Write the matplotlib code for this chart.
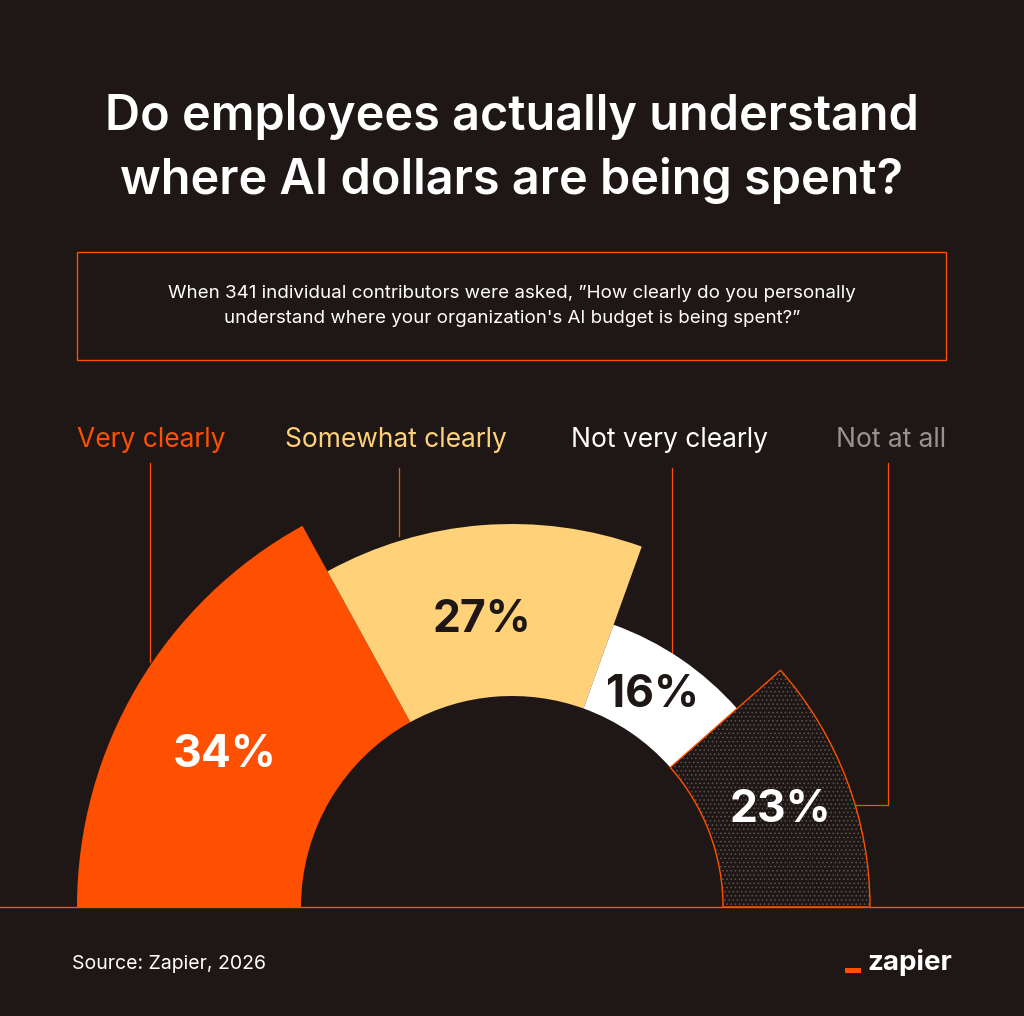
import matplotlib
matplotlib.use("Agg")
import matplotlib.pyplot as plt
from matplotlib.patches import Wedge, Rectangle

categories = ["Very clearly", "Somewhat clearly", "Not very clearly", "Not at all"]
values = [34, 27, 16, 23]
outer_r = [435, 383, 300, 358]
colors = ["#ff4f00", "#ffd27a", "#ffffff", "#1f1715"]
label_colors = ["#ff4f00", "#ffd27a", "#ffffff", "#9a9290"]
pct_colors = ["#ffffff", "#1f1715", "#1f1715", "#ffffff"]

BG = "#1f1715"
OR = "#ff4f00"
plt.rcParams['font.family'] = ['Inter', 'DejaVu Sans']
plt.rcParams['hatch.linewidth'] = 0.6
fig = plt.figure(figsize=(10.24, 10.16), dpi=100, facecolor=BG)
ax = fig.add_axes([0, 0, 1, 1])
ax.set_xlim(0, 1024); ax.set_ylim(1016, 0); ax.axis('off')
ax.set_facecolor(BG)

cx, cy, rin = 512, 907, 211
start = 180.0
for v, r, c in zip(values, outer_r, colors):
    end = start - v * 1.8
    t1, t2 = -start, -end
    if c == BG:
        ax.add_patch(Wedge((cx, cy), r, t1, t2, width=r - rin, facecolor=BG,
                           edgecolor="#5e5451", hatch='....', lw=0, zorder=3))
        ax.add_patch(Wedge((cx, cy), r, t1, t2, width=r - rin, facecolor='none',
                           edgecolor=OR, lw=1, zorder=3))
    else:
        ax.add_patch(Wedge((cx, cy), r, t1, t2, width=r - rin, facecolor=c, lw=0, zorder=3))
    start = end

pct_pos = [(225, 755), (482, 620), (652, 695), (780, 810)]
for (x, y), v, pc in zip(pct_pos, values, pct_colors):
    ax.text(x, y, f"{v}%", ha='center', va='center', fontsize=32, fontweight='bold',
            color=pc, zorder=5)

lab_pos = [(77, 'left'), (285, 'left'), (571, 'left'), (946, 'right')]
for (x, ha), t, c in zip(lab_pos, categories, label_colors):
    ax.text(x, 440, t, ha=ha, va='center', fontsize=19, color=c)

lw = 0.9
ax.plot([150, 150], [463, 662], color=OR, lw=lw, zorder=1)
ax.plot([399, 399], [468, 536], color=OR, lw=lw, zorder=1)
ax.plot([672, 672], [468, 682], color=OR, lw=lw, zorder=1)
ax.plot([888, 888, 836], [463, 805, 805], color=OR, lw=lw, zorder=1)
ax.plot([0, 1024], [907, 907], color=OR, lw=1, zorder=4)

ax.add_patch(Rectangle((77, 252), 869, 108, facecolor='none', edgecolor=OR, lw=1))
ax.text(512, 306, "When 341 individual contributors were asked, \u201dHow clearly do you personally\n"
        "understand where your organization's AI budget is being spent?\u201d",
        ha='center', va='center', fontsize=13.5, color='white', linespacing=1.6)

ax.text(512, 117, "Do employees actually understand", ha='center', va='center',
        fontsize=35, fontweight='semibold', color='white')
ax.text(512, 180, "where AI dollars are being spent?", ha='center', va='center',
        fontsize=35, fontweight='semibold', color='white')

ax.text(72, 964, "Source: Zapier, 2026", ha='left', va='center', fontsize=14, color='white')
ax.add_patch(Rectangle((845, 968), 16, 5, facecolor=OR, lw=0))
ax.text(952, 962, "zapier", ha='right', va='center', fontsize=20, fontweight='bold', color='white')

fig.savefig("out.png", dpi=100, facecolor=BG)
